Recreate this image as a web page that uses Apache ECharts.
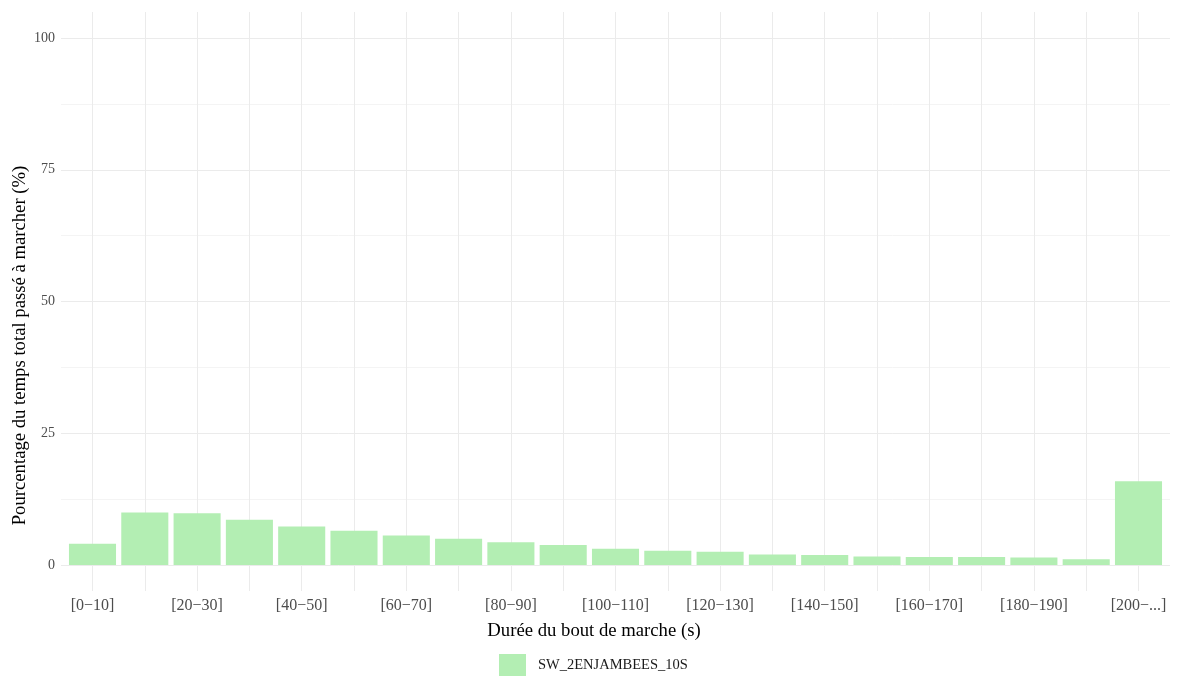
<!DOCTYPE html>
<html>
<head>
<meta charset="utf-8">
<script src="https://cdn.jsdelivr.net/npm/echarts@6/dist/echarts.min.js"></script>
<style>
html,body{margin:0;padding:0;background:#fff;}
#chart{width:1180px;height:679px;}
</style>
</head>
<body>
<div id="chart"></div>
<script>
const categories = ["[0\u221210]","[10\u221220]","[20\u221230]","[30\u221240]","[40\u221250]","[50\u221260]","[60\u221270]","[70\u221280]","[80\u221290]","[90\u2212100]","[100\u2212110]","[110\u2212120]","[120\u2212130]","[130\u2212140]","[140\u2212150]","[150\u2212160]","[160\u2212170]","[170\u2212180]","[180\u2212190]","[190\u2212200]","[200\u2212...]"];
const seriesName = "SW_2ENJAMBEES_10S";
const values = [4.05, 9.95, 9.8, 8.6, 7.3, 6.5, 5.6, 5.0, 4.3, 3.8, 3.1, 2.7, 2.5, 2.0, 1.9, 1.6, 1.5, 1.5, 1.4, 1.1, 15.9];
const yTicks = [0, 25, 50, 75, 100];
const xTitle = 'Durée du bout de marche (s)';
const yTitle = 'Pourcentage du temps total passé à marcher (%)';

const font = "Liberation Serif";
const chart = echarts.init(document.getElementById('chart'), null, {renderer: 'canvas'});
chart.setOption({
  animation: false,
  backgroundColor: '#ffffff',
  grid: [
    {left: 66.35, right: 15.35, top: 38, bottom: 114},
    {left: 92.5, right: 41.5, top: 12, bottom: 88},
    {left: 61, right: 10, top: 38, bottom: 114}
  ],
  legend: {
    data: [seriesName],
    left: 494, top: 649,
    itemWidth: 27, itemHeight: 22, itemGap: 10,
    icon: 'rect',
    textStyle: {fontFamily: font, fontSize: 14.5, color: '#1a1a1a', padding: [0, 0, 0, 7]}
  },
  graphic: [
    {
      type: 'text', x: 594, y: 631,
      style: {text: xTitle, fontFamily: font, fontSize: 18.7, fill: '#000',
              textAlign: 'center', textVerticalAlign: 'middle'}
    },
    {
      type: 'text', x: 20, y: 345.5, rotation: Math.PI / 2,
      style: {text: yTitle, fontFamily: font, fontSize: 18.7, fill: '#000',
              textAlign: 'center', textVerticalAlign: 'middle'}
    }
  ],
  xAxis: [
    {
      type: 'category', gridIndex: 0, data: categories,
      axisLine: {show: false}, axisTick: {show: false},
      splitLine: {show: false},
      axisLabel: {interval: 1, margin: 33, fontFamily: font, fontSize: 16, color: '#4d4d4d'}
    },
    {
      type: 'value', gridIndex: 1, min: 0, max: 20, interval: 1,
      axisLine: {show: false}, axisTick: {show: false}, axisLabel: {show: false},
      splitLine: {show: true, lineStyle: {color: '#ebebeb', width: 1}}
    },
    {
      type: 'value', gridIndex: 2, min: 0, max: 1, show: false,
      splitLine: {show: false}
    }
  ],
  yAxis: [
    {
      type: 'value', gridIndex: 0, min: 0, max: 100, show: false,
      splitLine: {show: false}
    },
    {
      type: 'value', gridIndex: 1, min: 0, max: 1, show: false,
      splitLine: {show: false}
    },
    {
      type: 'value', gridIndex: 2, min: 0, max: 100, interval: 12.5,
      axisLine: {show: false}, axisTick: {show: false},
      splitLine: {show: true, lineStyle: {color: ['#ebebeb', '#f4f4f4'], width: 1}},
      axisLabel: {
        margin: 6, fontFamily: font, fontSize: 14, color: '#4d4d4d',
        formatter: v => yTicks.includes(v) ? String(v) : ''
      }
    }
  ],
  series: [
    {
      name: seriesName, type: 'bar', xAxisIndex: 0, yAxisIndex: 0,
      data: values, barCategoryGap: '10%',
      itemStyle: {color: '#b3eeb3'}
    }
  ]
});
</script>
</body>
</html>
